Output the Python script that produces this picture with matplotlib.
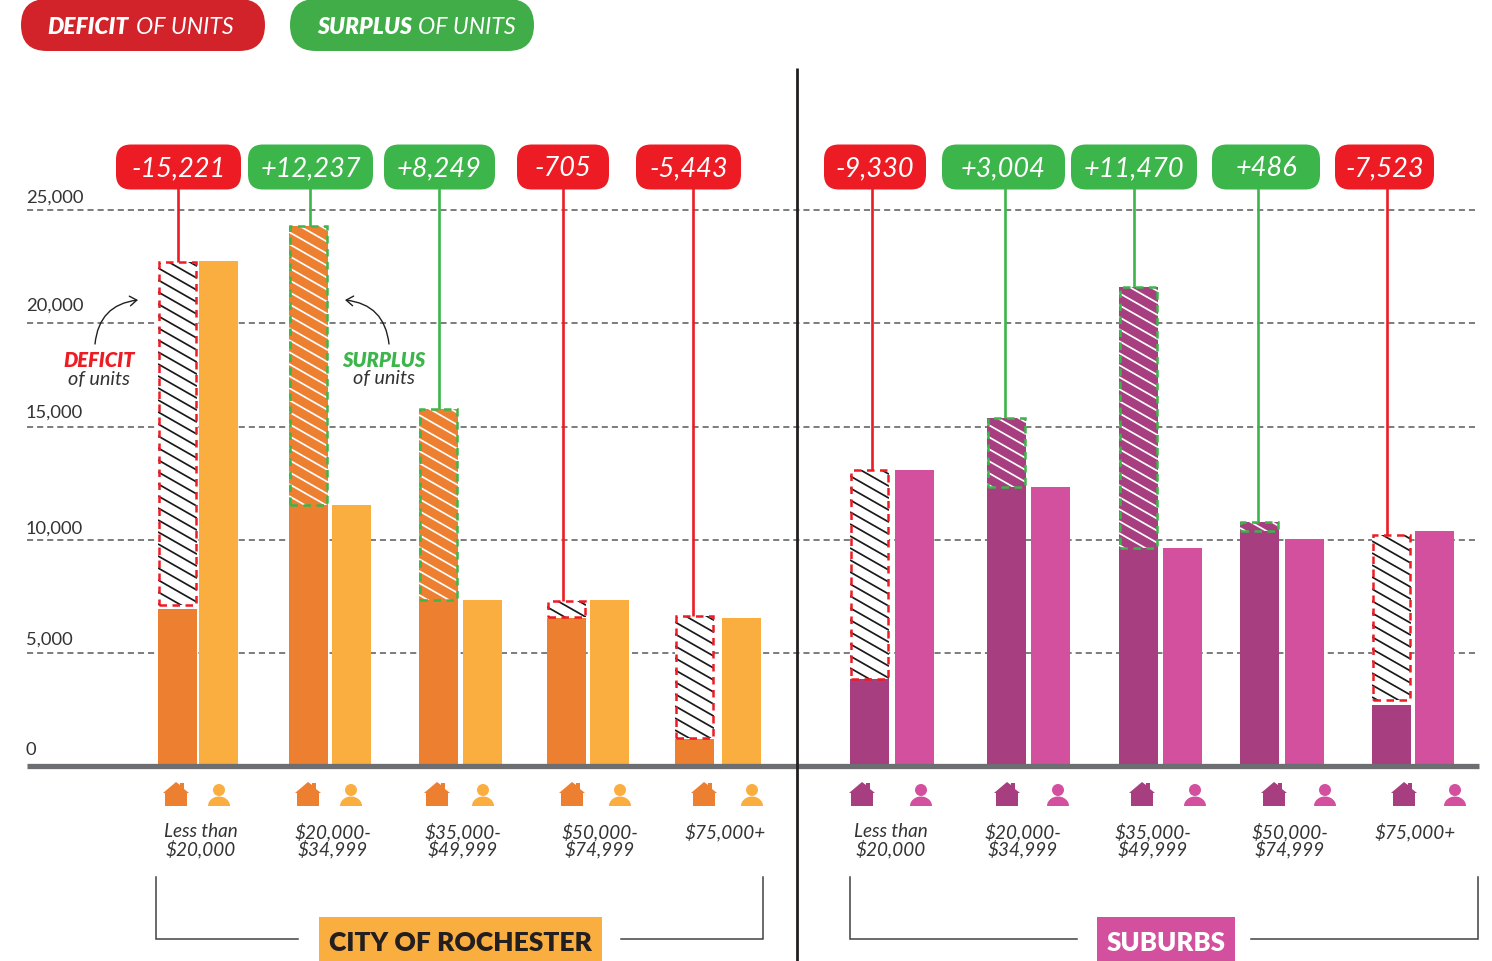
import numpy as np
from matplotlib import pyplot as plt
from matplotlib.patches import FancyBboxPatch, FancyArrowPatch, Rectangle, Polygon, Circle

plt.rcParams['font.family'] = ['Lato', 'DejaVu Sans']

# values (units / households)
y_ticks = [0, 5000, 10000, 15000, 20000, 25000]
grid_levels = [5045, 10135, 15225, 19910, 25000]
groups = ['Less than\n$20,000', '$20,000-\n$34,999', '$35,000-\n$49,999', '$50,000-\n$74,999', '$75,000+']

city_units = [7030, 11710, 7430, 6620, 1170]
city_people = [22700, 11710, 7430, 7430, 6620]
city_gap_low = [7210, 11710, 7430, 6670, 1210]
city_gap_high = [22660, 24280, 16040, 7390, 6710]
city_gaps = ['-15,221', '+12,237', '+8,249', '-705', '-5,443']

sub_units = [3870, 12520, 9780, 10540, 2700]
sub_people = [13290, 12520, 9780, 10180, 10540]
sub_gap_low = [3870, 12520, 9780, 10540, 2930]
sub_gap_high = [13290, 15630, 21530, 10950, 10360]
sub_gaps = ['-9,330', '+3,004', '+11,470', '+486', '-7,523']

# layout, in pixels
W, H = 1492, 962
BASE = 766.0
SCALE = 0.0222  # px per unit
BAR_W = 39
RED, GREEN = '#ED1C24', '#3CB54A'
TXT = '#333333'

city_house_x = [158, 289, 419, 547, 675]
city_person_x = [199, 332, 463, 590, 722]
sub_house_x = [850, 987, 1119, 1240, 1372]
sub_person_x = [895, 1031, 1163, 1285, 1415]

city_line_x = [178, 310, 439, 563, 693]
sub_line_x = [872, 1005, 1134, 1258, 1387]
city_badges = [(116, 241), (248, 373), (384, 495), (517, 609), (636, 741)]
sub_badges = [(824, 926), (942, 1065), (1071, 1197), (1212, 1320), (1335, 1434)]

city_icon_house = [176, 308, 437, 572, 704]
city_icon_person = [219, 351, 483, 620, 752]
sub_icon_house = [862, 1007, 1142, 1274, 1404]
sub_icon_person = [921, 1058, 1195, 1325, 1455]
city_label_x = [201, 333, 463, 600, 725]
sub_label_x = [891, 1023, 1153, 1290, 1415]
tick_label_y = [750, 640, 529, 413, 306, 198]


def gap_box(ax, x, low, high, deficit, fill):
  face = 'white' if deficit else fill
  ink = '#1A1A1A' if deficit else 'white'
  edge = RED if deficit else GREEN
  clip = Rectangle((x, low), BAR_W, high - low, fc=face, ec='none', zorder=3)
  ax.add_patch(clip)
  # shallow stripes, hatch= only does 45 degrees
  for off in np.arange(-30, (high - low) * SCALE + 30, 12):
    yy = np.array([high * SCALE - off, high * SCALE - off - 0.57 * BAR_W]) / SCALE
    ln, = ax.plot([x, x + BAR_W], yy, color=ink, lw=1.25, zorder=4, solid_capstyle='butt')
    ln.set_clip_path(clip)
  ax.add_patch(Rectangle((x + 1, low), BAR_W - 2, high - low, fc='none', ec=edge, lw=1.8,
                         ls=(0, (3.0, 2.2)), zorder=5))


def house(ax, cx, color):
  pts = [(-13, 11), (0, 0), (4, 3), (4, 1), (8, 1), (8, 7), (13, 11), (11, 11), (11, 24), (-11, 24), (-11, 11)]
  ax.add_patch(Polygon([(cx + a, 783 + b) for a, b in pts], fc=color, ec='none'))


def person(ax, cx, color):
  ax.add_patch(Circle((cx, 791), 6, fc=color, ec='none'))
  t = np.linspace(0, np.pi, 30)
  ax.add_patch(Polygon(np.c_[cx + 11 * np.cos(t), 807 - 9.5 * np.sin(t)], fc=color, ec='none'))


def draw_side(ax, px, units, people, low, high, gaps, hx, bx, lx, badges, ihx, ipx, labx, c1, c2):
  ax.bar(hx, units, width=BAR_W, align='edge', color=c1, zorder=2)
  ax.bar(bx, people, width=BAR_W, align='edge', color=c2, zorder=2)
  for i in range(5):
    deficit = gaps[i].startswith('-')
    col = RED if deficit else GREEN
    gap_box(ax, hx[i], low[i], high[i], deficit, c1)
    ax.plot([lx[i], lx[i]], [high[i], (BASE - 185) / SCALE], color=col, lw=1.9, zorder=4,
            solid_capstyle='butt')
    x0, x1 = badges[i]
    px.add_patch(FancyBboxPatch((x0 + 15, 160.5), x1 - x0 - 30, 15, boxstyle='round,pad=15,rounding_size=15',
                                fc=col, ec='none'))
    px.text((x0 + x1) / 2, 168.5, gaps[i], color='white', fontsize=19.5, style='italic',
            ha='center', va='center')
    house(px, ihx[i], c1)
    person(px, ipx[i], c2)
    px.text(labx[i], 840.5, groups[i] if '\n' in groups[i] else groups[i] + '\n ', color=TXT, fontsize=13.6,
            style='italic', ha='center', va='center', linespacing=0.95)


fig = plt.figure(figsize=(W / 100, H / 100), dpi=100)
ax = fig.add_axes([0, 0, 1, 1])
ax.set_xlim(0, W)
ax.set_ylim((BASE - H) / SCALE, BASE / SCALE)
ax.axis('off')
px = fig.add_axes([0, 0, 1, 1], facecolor='none')
px.set_xlim(0, W)
px.set_ylim(H, 0)
px.axis('off')

for g in grid_levels:
  ax.plot([27, 1475], [g, g], color='#58595B', lw=1.1, ls=(0, (4, 2.6)), zorder=1)

draw_side(ax, px, city_units, city_people, city_gap_low, city_gap_high, city_gaps, city_house_x,
          city_person_x, city_line_x, city_badges, city_icon_house, city_icon_person, city_label_x,
          '#ED7F31', '#FBAE40')
draw_side(ax, px, sub_units, sub_people, sub_gap_low, sub_gap_high, sub_gaps, sub_house_x,
          sub_person_x, sub_line_x, sub_badges, sub_icon_house, sub_icon_person, sub_label_x,
          '#A73E80', '#D3509F')

ax.plot([27, 1479], [-45, -45], color='#6D6E71', lw=3.8, zorder=6, solid_capstyle='butt')
for v, y in zip(y_ticks, tick_label_y):
  px.text(26, y, format(v, ','), color=TXT, fontsize=13.2, ha='left', va='center')

# divider
px.plot([797, 797], [69, H], color='#231F20', lw=2, zorder=7, solid_capstyle='butt')

# legend pills
for x0, col, bold, lab2, bx, tx in [(21, '#D2232A', 'DEFICIT', 'OF UNITS', 47, 136),
                                    (290, '#41AD49', 'SURPLUS', 'OF UNITS', 317, 418)]:
  px.add_patch(FancyBboxPatch((x0 + 26, 26), 192, 0, boxstyle='round,pad=26,rounding_size=26', fc=col, ec='none'))
  px.text(bx, 27, bold, color='white', fontsize=16.5, weight='heavy', style='italic', ha='left', va='center')
  px.text(tx, 27, lab2, color='white', fontsize=16.7, style='italic', ha='left', va='center')

# small callouts
px.text(99, 361, 'DEFICIT', color=RED, fontsize=14.5, weight='heavy', style='italic', ha='center', va='center')
px.text(99, 380, 'of units', color=TXT, fontsize=14.3, style='italic', ha='center', va='center')
px.text(384, 361, 'SURPLUS', color=GREEN, fontsize=14.5, weight='heavy', style='italic', ha='center', va='center')
px.text(384, 379, 'of units', color=TXT, fontsize=14.3, style='italic', ha='center', va='center')
px.add_patch(FancyArrowPatch((95, 345), (138, 301), connectionstyle='arc3,rad=-0.4', arrowstyle='->,head_length=5,head_width=3.5',
                             color='#231F20', lw=1, shrinkA=0, shrinkB=0))
px.add_patch(FancyArrowPatch((389, 345), (345, 301), connectionstyle='arc3,rad=0.4', arrowstyle='->,head_length=5,head_width=3.5',
                             color='#231F20', lw=1, shrinkA=0, shrinkB=0))

# brackets
for xs, ys in [([156, 156, 298], [878, 940, 940]), ([621, 763, 763], [940, 940, 878]),
               ([850, 850, 1077], [878, 940, 940]), ([1251, 1478, 1478], [940, 940, 878])]:
  px.plot(xs, ys, color='#414042', lw=1.1, solid_joinstyle='miter')

px.add_patch(Rectangle((319, 918), 283, 44, fc='#FBAE40', ec='none'))
px.text(460.5, 943, 'CITY OF ROCHESTER', color='#231F20', fontsize=19, weight='heavy', ha='center', va='center')
px.add_patch(Rectangle((1097, 918), 138, 44, fc='#D3509F', ec='none'))
px.text(1166, 943, 'SUBURBS', color='white', fontsize=18.5, weight='heavy', ha='center', va='center')

fig.savefig('out.png', dpi=100)
